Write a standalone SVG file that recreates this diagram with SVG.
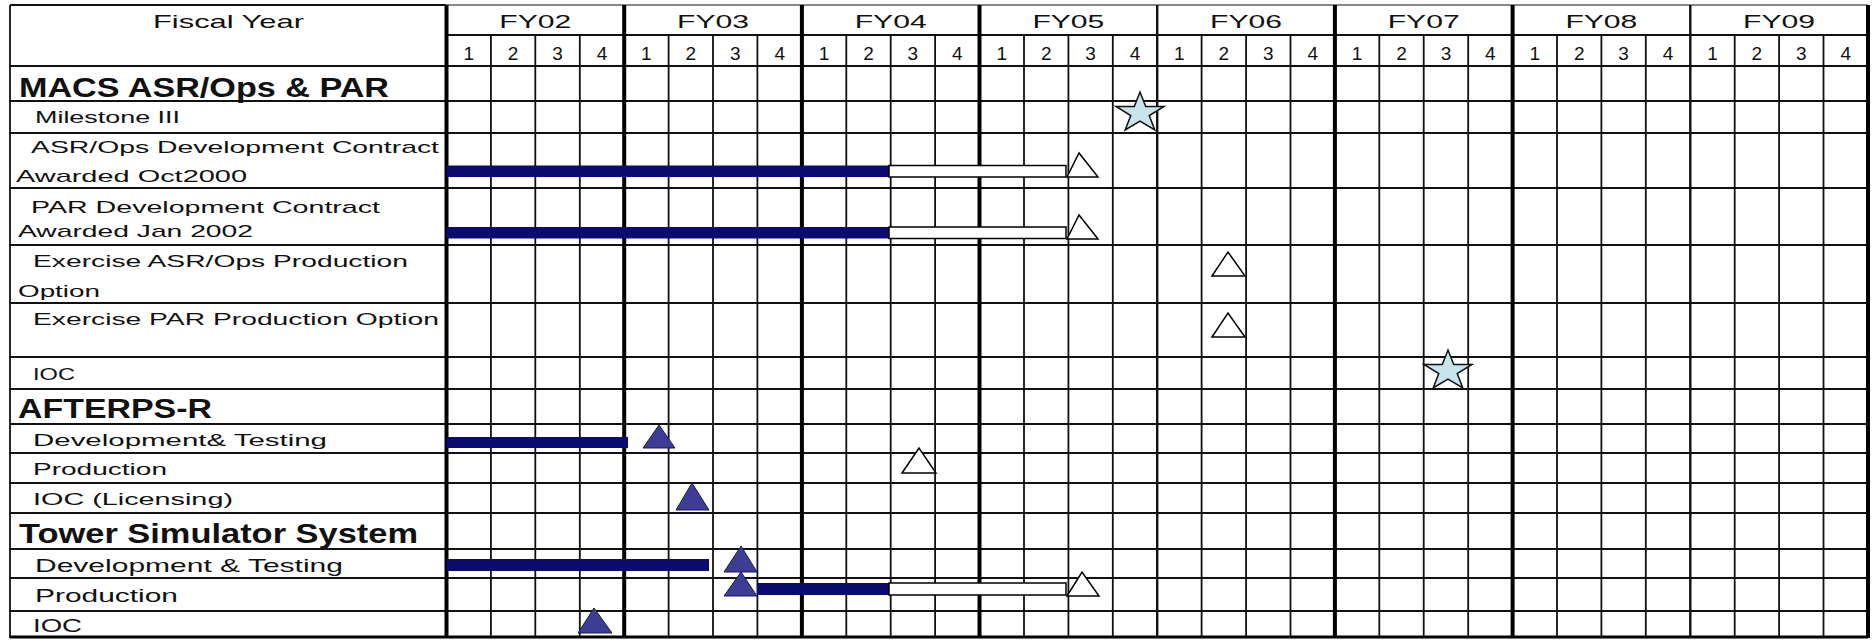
<svg xmlns="http://www.w3.org/2000/svg" width="1876" height="640" viewBox="0 0 1876 640">
<style>
  text { font-family: "Liberation Sans", Arial, sans-serif; fill: #111; }
  .hdr { font-size: 19px; text-anchor: middle; }
  .q { font-size: 19px; text-anchor: middle; }
  .sec { font-size: 27px; font-weight: bold; }
  .lbl { font-size: 17px; }
  .lbl2 { font-size: 19px; }
  .thin { stroke: #111; stroke-width: 1.8; fill: none; }
  .thick { stroke: #000; stroke-width: 4; fill: none; }
  .mid { stroke: #111; stroke-width: 2.4; fill: none; }
  .navy { fill: #0b0b72; }
  .wbar { fill: #fff; stroke: #000; stroke-width: 1.5; }
  .open { fill: #fff; stroke: #000; stroke-width: 1.5; stroke-linejoin: miter; }
  .fill { fill: #3d3d96; stroke: #1a1a50; stroke-width: 1; }
  .star { fill: #c6e4e9; stroke: #111; stroke-width: 1.5; }
</style>
<defs>
  <path id="star" d="M0,-21 L5.72,-6.55 L23.97,-6.49 L9.24,2.5 L14.82,16.99 L0,8.1 L-14.82,16.99 L-9.24,2.5 L-23.97,-6.49 L-5.72,-6.55 Z"/>
</defs>
<rect x="0" y="0" width="1876" height="640" fill="#fff"/>

<g id="grid-lines">
  <!-- top border -->
  <line x1="10" y1="5" x2="446.5" y2="5" class="thin"/>
  <line x1="446.5" y1="5" x2="1868" y2="5" stroke="#888" stroke-width="1.8"/>
  <!-- left border -->
  <line x1="10" y1="5" x2="10" y2="638" class="thin"/>
  <!-- header FY line -->
  <line x1="446.5" y1="35" x2="1868" y2="35" class="thin"/>
  <!-- row lines -->
  <path class="thin" d="M10,66H1868 M10,101H1868 M10,133H1868 M10,188H1868 M10,245H1868 M10,303H1868 M10,357H1868 M10,389H1868 M10,424H1868 M10,453H1868 M10,483H1868 M10,513H1868 M10,549H1868 M10,578H1868 M10,611H1868"/>
  <line x1="10" y1="637" x2="1868" y2="637" stroke="#000" stroke-width="3"/>
  <!-- quarter lines -->
  <path class="thin" d="M490.9,35V637 M535.3,35V637 M579.8,35V637 M668.6,35V637 M713,35V637 M757.4,35V637 M846.3,35V637 M890.7,35V637 M935.1,35V637 M1024,35V637 M1068.4,35V637 M1112.8,35V637 M1201.6,35V637 M1246.1,35V637 M1290.5,35V637 M1379.3,35V637 M1423.7,35V637 M1468.2,35V637 M1557,35V637 M1601.4,35V637 M1645.8,35V637 M1734.7,35V637 M1779.1,35V637 M1823.5,35V637"/>
  <!-- year boundaries -->
  <path class="thick" d="M446.5,5V638 M624.2,5V638 M801.9,5V638 M979.5,5V638 M1334.9,5V638 M1512.6,5V638 M1868,5V638"/>
  <path class="mid" d="M1157.2,5V638 M1690.3,5V638"/>
</g>

<g id="header">
  <text x="228.5" y="28" class="hdr" textLength="151" lengthAdjust="spacingAndGlyphs">Fiscal Year</text>
  <text x="535.3" y="28" class="hdr" textLength="72" lengthAdjust="spacingAndGlyphs">FY02</text>
  <text x="713" y="28" class="hdr" textLength="72" lengthAdjust="spacingAndGlyphs">FY03</text>
  <text x="890.7" y="28" class="hdr" textLength="72" lengthAdjust="spacingAndGlyphs">FY04</text>
  <text x="1068.4" y="28" class="hdr" textLength="72" lengthAdjust="spacingAndGlyphs">FY05</text>
  <text x="1246.1" y="28" class="hdr" textLength="72" lengthAdjust="spacingAndGlyphs">FY06</text>
  <text x="1423.7" y="28" class="hdr" textLength="72" lengthAdjust="spacingAndGlyphs">FY07</text>
  <text x="1601.4" y="28" class="hdr" textLength="72" lengthAdjust="spacingAndGlyphs">FY08</text>
  <text x="1779.1" y="28" class="hdr" textLength="72" lengthAdjust="spacingAndGlyphs">FY09</text>
  <g class="q">
    <text x="468.7" y="60">1</text><text x="513.1" y="60">2</text><text x="557.5" y="60">3</text><text x="602" y="60">4</text>
    <text x="646.4" y="60">1</text><text x="690.8" y="60">2</text><text x="735.2" y="60">3</text><text x="779.7" y="60">4</text>
    <text x="824.1" y="60">1</text><text x="868.5" y="60">2</text><text x="912.9" y="60">3</text><text x="957.3" y="60">4</text>
    <text x="1001.8" y="60">1</text><text x="1046.2" y="60">2</text><text x="1090.6" y="60">3</text><text x="1135" y="60">4</text>
    <text x="1179.4" y="60">1</text><text x="1223.9" y="60">2</text><text x="1268.3" y="60">3</text><text x="1312.7" y="60">4</text>
    <text x="1357.1" y="60">1</text><text x="1401.5" y="60">2</text><text x="1446" y="60">3</text><text x="1490.4" y="60">4</text>
    <text x="1534.8" y="60">1</text><text x="1579.2" y="60">2</text><text x="1623.6" y="60">3</text><text x="1668.1" y="60">4</text>
    <text x="1712.5" y="60">1</text><text x="1756.9" y="60">2</text><text x="1801.3" y="60">3</text><text x="1845.8" y="60">4</text>
  </g>
</g>

<g id="macs">
  <text x="19" y="97" class="sec" textLength="370" lengthAdjust="spacingAndGlyphs">MACS ASR/Ops &amp; PAR</text>
</g>
<g id="milestone-iii">
  <text x="35" y="123" class="lbl" textLength="145" lengthAdjust="spacingAndGlyphs">Milestone III</text>
  <use href="#star" x="1140" y="113" class="star"/>
</g>
<g id="asr-dev">
  <text x="31" y="153" class="lbl" textLength="408" lengthAdjust="spacingAndGlyphs">ASR/Ops Development Contract</text>
  <text x="16" y="182" class="lbl" textLength="231" lengthAdjust="spacingAndGlyphs">Awarded Oct2000</text>
  <polygon class="open" points="1067,177 1079,153 1098,177"/>
  <rect class="navy" x="446.5" y="165.5" width="442.5" height="11.5"/>
  <rect class="wbar" x="889" y="165.5" width="177" height="11.5"/>
</g>
<g id="par-dev">
  <text x="31" y="213" class="lbl" textLength="349" lengthAdjust="spacingAndGlyphs">PAR Development Contract</text>
  <text x="18" y="237" class="lbl" textLength="235" lengthAdjust="spacingAndGlyphs">Awarded Jan 2002</text>
  <polygon class="open" points="1067,239 1079,215 1098,239"/>
  <rect class="navy" x="446.5" y="227" width="442.5" height="11.5"/>
  <rect class="wbar" x="889" y="227" width="177" height="11.5"/>
</g>
<g id="exercise-asr">
  <text x="33" y="267" class="lbl" textLength="375" lengthAdjust="spacingAndGlyphs">Exercise ASR/Ops Production</text>
  <text x="18" y="297" class="lbl" textLength="82" lengthAdjust="spacingAndGlyphs">Option</text>
  <polygon class="open" points="1212,276 1228,252 1245,276"/>
</g>
<g id="exercise-par">
  <text x="33" y="325" class="lbl" textLength="406" lengthAdjust="spacingAndGlyphs">Exercise PAR Production Option</text>
  <polygon class="open" points="1212,337 1228,313 1245,337"/>
</g>
<g id="macs-ioc">
  <text x="33" y="380" class="lbl" textLength="42" lengthAdjust="spacingAndGlyphs">IOC</text>
  <use href="#star" x="1448" y="371" class="star"/>
</g>

<g id="afterps">
  <text x="18" y="418" class="sec" textLength="194" lengthAdjust="spacingAndGlyphs">AFTERPS-R</text>
</g>
<g id="afterps-dev">
  <text x="33" y="446" class="lbl" textLength="294" lengthAdjust="spacingAndGlyphs">Development&amp; Testing</text>
  <rect class="navy" x="446.5" y="437" width="181.5" height="11"/>
  <polygon class="fill" points="643,448 659,425 675,448"/>
</g>
<g id="afterps-prod">
  <text x="33" y="475" class="lbl" textLength="134" lengthAdjust="spacingAndGlyphs">Production</text>
  <polygon class="open" points="902,473 919,448 936,473"/>
</g>
<g id="afterps-ioc">
  <text x="33" y="505" class="lbl" textLength="200" lengthAdjust="spacingAndGlyphs">IOC (Licensing)</text>
  <polygon class="fill" points="676,510 692,483 709,510"/>
</g>

<g id="tower">
  <text x="19" y="543" class="sec" textLength="399" lengthAdjust="spacingAndGlyphs">Tower Simulator System</text>
</g>
<g id="tower-dev">
  <text x="35" y="572" class="lbl2" textLength="308" lengthAdjust="spacingAndGlyphs">Development &amp; Testing</text>
  <rect class="navy" x="446.5" y="559" width="262.5" height="12"/>
  <polygon class="fill" points="724,572 741,546 757,572"/>
</g>
<g id="tower-prod">
  <text x="35" y="602" class="lbl2" textLength="143" lengthAdjust="spacingAndGlyphs">Production</text>
  <polygon class="open" points="1067,596 1082,572 1099,596"/>
  <rect class="navy" x="757" y="583" width="132" height="12"/>
  <rect class="wbar" x="889" y="583" width="177" height="12"/>
  <polygon class="fill" points="724,596 741,572 757,596"/>
</g>
<g id="tower-ioc">
  <text x="33" y="632" class="lbl2" textLength="49" lengthAdjust="spacingAndGlyphs">IOC</text>
  <polygon class="fill" points="578,633 594,608 612,633"/>
</g>
</svg>
